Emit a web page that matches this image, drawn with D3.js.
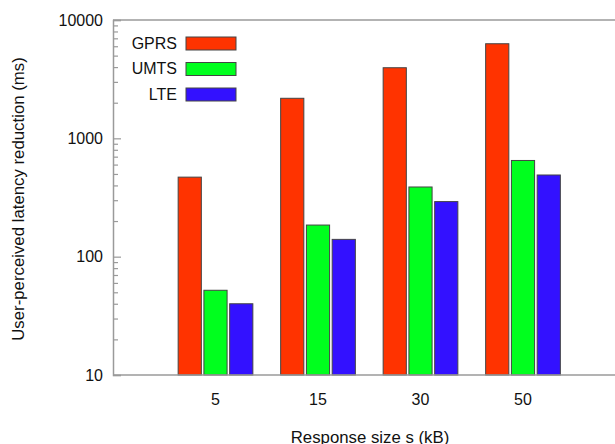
<!DOCTYPE html>
<html><head><meta charset="utf-8">
<script src="https://cdn.jsdelivr.net/npm/d3@7"></script>
<style>body{margin:0;background:#fff}svg{display:block}text{font-family:"Liberation Sans",Arial,sans-serif;fill:#111}</style>
</head><body><svg id="c" width="615" height="444"></svg>
<script>
const categories = ["5", "15", "30", "50"];
const seriesNames = ["GPRS", "UMTS", "LTE"];
const gprs = [470, 2180, 3950, 6300];
const umts = [52, 185, 388, 650];
const lte = [40, 140, 292, 490];
const yTicks = [10, 100, 1000, 10000];
const colors = ["#ff3300", "#00ff1e", "#3311ff"];
const seriesValues = [gprs, umts, lte];

const svg = d3.select("#c");
const L = 113, R = 625.5, T = 20, B = 375;
const y = d3.scaleLog().domain([10, 10000]).range([B, T]);
const step = (R - L) / 5;
const x = d3.scaleBand().domain(categories).range([L + step / 2, R - step / 2]).paddingInner(0).paddingOuter(0);
const groupW = 74.7;
const xs = d3.scaleBand().domain(seriesNames).range([-groupW / 2, groupW / 2]).paddingInner(0.1).paddingOuter(0);

const axisColor = "#9a9a9a";
// frame
svg.append("line").attr("x1", L).attr("x2", R).attr("y1", T).attr("y2", T).attr("stroke", axisColor).attr("stroke-width", 1.5);

// bars
seriesNames.forEach((s, si) => {
  svg.append("g").selectAll("rect").data(seriesValues[si]).join("rect")
    .attr("x", (d, i) => x(categories[i]) + x.bandwidth() / 2 + xs(s))
    .attr("width", xs.bandwidth())
    .attr("y", d => y(d))
    .attr("height", d => y(10) - y(d))
    .attr("fill", colors[si])
    .attr("stroke", "#444").attr("stroke-width", 1);
});

svg.append("line").attr("x1", L).attr("x2", R).attr("y1", B).attr("y2", B).attr("stroke", axisColor).attr("stroke-width", 1.5);

// y axis
const minor = [];
for (let e = 1; e < 4; e++) for (let m = 2; m <= 9; m++) minor.push(m * Math.pow(10, e));
const yAxisMinor = d3.axisRight(y).tickValues(minor).tickSize(5).tickFormat("");
const gm = svg.append("g").attr("transform", `translate(${L},0)`).call(yAxisMinor);
gm.select(".domain").remove();
gm.selectAll(".tick line").attr("stroke", axisColor).attr("stroke-width", 1.2);
const yAxis = d3.axisRight(y).tickValues(yTicks).tickSize(8).tickFormat(d3.format("d"));
const gy = svg.append("g").attr("transform", `translate(${L},0)`).call(yAxis);
gy.select(".domain").attr("stroke", axisColor).attr("stroke-width", 1.5);
gy.selectAll(".tick line").attr("stroke", axisColor).attr("stroke-width", 1.2);
gy.selectAll(".tick text").attr("x", -10).attr("text-anchor", "end").attr("font-size", 16).attr("fill", "#111")
  .attr("font-family", '"Liberation Sans",Arial,sans-serif');

// x axis labels
const xAxis = d3.axisBottom(x).tickSize(0).tickPadding(19);
const gx = svg.append("g").attr("transform", `translate(0,${B})`).call(xAxis);
gx.select(".domain").remove();
gx.selectAll(".tick text").attr("font-size", 16).attr("fill", "#111").attr("font-family", '"Liberation Sans",Arial,sans-serif');

// axis titles
svg.append("text").attr("transform", `translate(24,199) rotate(-90)`).attr("text-anchor", "middle")
  .attr("font-size", 16.8).text("User-perceived latency reduction (ms)");
svg.append("text").attr("x", 370).attr("y", 443).attr("text-anchor", "middle")
  .attr("font-size", 16.8).text("Response size s (kB)");

// legend
const lg = svg.append("g");
seriesNames.forEach((s, i) => {
  const yy = 37 + i * 25.5;
  lg.append("rect").attr("x", 186).attr("y", yy).attr("width", 50).attr("height", 13)
    .attr("fill", colors[i]).attr("stroke", "#444").attr("stroke-width", 1);
  lg.append("text").attr("x", 177).attr("y", yy + 11.5).attr("text-anchor", "end").attr("font-size", 16).text(s);
});
</script></body></html>
